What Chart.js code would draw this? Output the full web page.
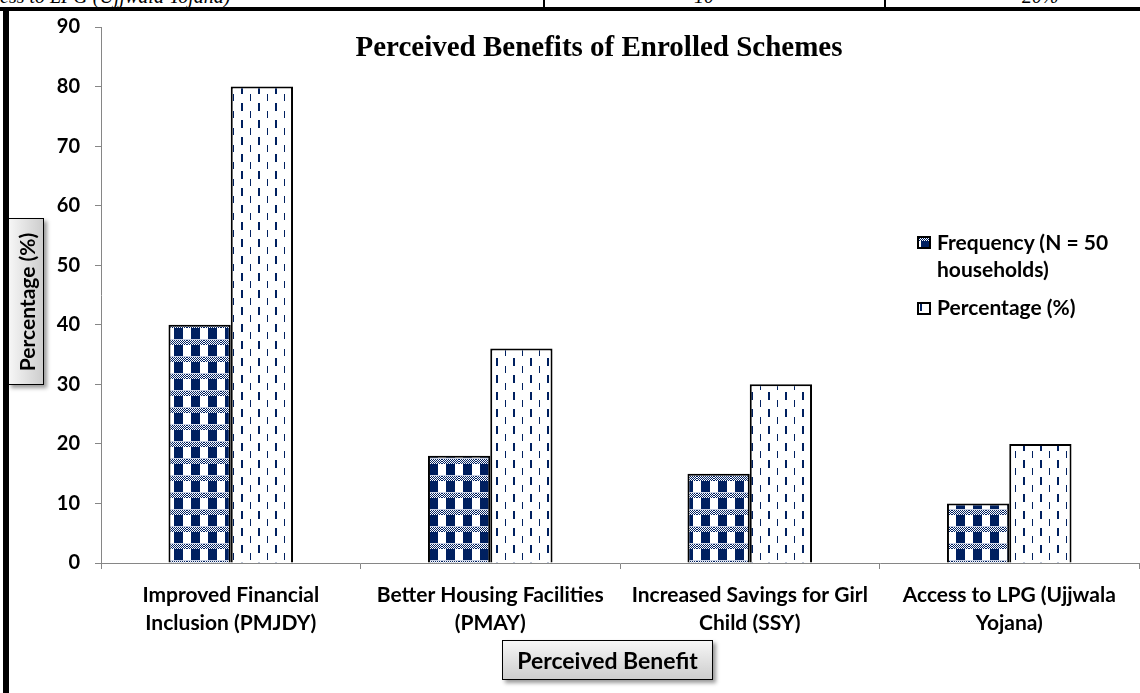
<!DOCTYPE html>
<html>
<head>
<meta charset="utf-8">
<script src="https://cdn.jsdelivr.net/npm/chart.js@4.4.1/dist/chart.umd.min.js"></script>
<style>
  body { margin: 0; background: #fff; }
  #page { position: relative; width: 1140px; height: 693px; overflow: hidden; background: #fff; }
  #chart { position: absolute; left: 0; top: 0; }
  .cell-text { position: absolute; top: -14px; font: italic 20px/20px "Liberation Serif", serif; color: #000; white-space: nowrap; }
  .rule { position: absolute; background: #000; }
  #title { position: absolute; left: 599px; top: 32px; transform: translateX(-50%); font: bold 29px/29px "Liberation Serif", serif; color: #000; white-space: nowrap; }
  .legend-row { position: absolute; left: 937px; font: bold 21px/27px Lato, sans-serif; color: #000; }
  .swatch { position: absolute; left: 917px; }
  .axis-box { position: absolute; border: 1px solid #000; box-shadow: 3px 3px 4px rgba(0,0,0,0.4); box-sizing: border-box; }
  .axis-box span { position: absolute; left: 50%; top: 50%; font: bold 21px Lato, sans-serif; color: #000; white-space: nowrap; }
</style>
</head>
<body>
<div id="page">
  <!-- cut-off table row above the chart -->
  <div class="cell-text" style="left:0px">ess to LPG (Ujjwala Yojana)</div>
  <div class="cell-text" style="left:694px">10</div>
  <div class="cell-text" style="left:1022px">20%</div>
  <div class="rule" style="left:543px; top:0; width:2px; height:8px"></div>
  <div class="rule" style="left:884px; top:0; width:2px; height:8px"></div>
  <div class="rule" style="left:0; top:7px; width:1140px; height:4px"></div>
  <div class="rule" style="left:3px; top:10px; width:6px; height:683px"></div>

  <canvas id="chart" width="1140" height="693"></canvas>

  <div id="title">Perceived Benefits of Enrolled Schemes</div>

  <canvas class="swatch" id="sw0" width="14" height="13" style="top:236px"></canvas>
  <div class="legend-row" style="top:228px">Frequency (N = 50<br>households)</div>
  <canvas class="swatch" id="sw1" width="14" height="13" style="top:302px"></canvas>
  <div class="legend-row" style="top:293px">Percentage (%)</div>

  <div class="axis-box" style="left:8px; top:218px; width:36px; height:167px; background:linear-gradient(to right,#f6f6f6,#cdcdcd)">
    <span style="transform:translate(-50%,-50%) rotate(-90deg)">Percentage (%)</span>
  </div>
  <div class="axis-box" style="left:502px; top:640px; width:211px; height:40px; background:linear-gradient(to bottom,#f6f6f6,#cdcdcd)">
    <span style="transform:translate(-50%,-50%); font-size:23px">Perceived Benefit</span>
  </div>
</div>

<script>
const categories = [
    ['Improved Financial', 'Inclusion (PMJDY)'],
    ['Better Housing Facilities', '(PMAY)'],
    ['Increased Savings for Girl', 'Child (SSY)'],
    ['Access to LPG (Ujjwala', 'Yojana)']
];
const frequency = [40, 18, 15, 10];
const percentage = [80, 36, 30, 20];
const yTicks = [0, 10, 20, 30, 40, 50, 60, 70, 80, 90];

const NAVY = '#002060';

// checkered tile for the frequency bars
function checkTile() {
    const c = document.createElement('canvas');
    c.width = 17; c.height = 17;
    const g = c.getContext('2d');
    g.fillStyle = '#fff';
    g.fillRect(0, 0, 17, 17);
    g.fillStyle = NAVY;
    for (let y = 0; y < 5; y++) {
        for (let x = (y % 2); x < 17; x += 2) g.fillRect(x, y, 1, 1);
    }
    g.fillRect(4, 5, 9, 11);
    g.fillStyle = '#c8d0e4';
    g.fillRect(0, 16, 17, 1);
    return c;
}

// white tile with staggered vertical dashes for the percentage bars
function dashTile() {
    const c = document.createElement('canvas');
    c.width = 17; c.height = 17;
    const g = c.getContext('2d');
    g.fillStyle = '#fff';
    g.fillRect(0, 0, 17, 17);
    g.fillStyle = NAVY;
    g.fillRect(3, 1, 2, 8);
    g.fillRect(12, 9, 1, 7);
    return c;
}

const ctx = document.getElementById('chart').getContext('2d');
const freqFill = ctx.createPattern(checkTile(), 'repeat');
const pctFill = ctx.createPattern(dashTile(), 'repeat');

function drawSwatch(id, tile) {
    const g = document.getElementById(id).getContext('2d');
    g.fillStyle = g.createPattern(tile, 'repeat');
    g.fillRect(0, 0, 14, 13);
    g.strokeStyle = '#000';
    g.lineWidth = 2;
    g.strokeRect(1, 1, 12, 11);
}
drawSwatch('sw0', checkTile());
drawSwatch('sw1', dashTile());

new Chart(ctx, {
    type: 'bar',
    data: {
        labels: categories,
        datasets: [{
            label: 'Frequency (N = 50 households)',
            data: frequency,
            backgroundColor: freqFill,
            borderColor: '#000',
            borderWidth: 2
        }, {
            label: 'Percentage (%)',
            data: percentage,
            backgroundColor: pctFill,
            borderColor: '#000',
            borderWidth: 2
        }]
    },
    options: {
        responsive: false,
        animation: false,
        categoryPercentage: 0.48,
        barPercentage: 1,
        layout: { padding: { top: 23, right: 1, left: 0, bottom: 0 } },
        plugins: {
            legend: { display: false },
            title: { display: false },
            tooltip: { enabled: false }
        },
        scales: {
            x: {
                ticks: {
                    color: '#000',
                    font: { family: 'Lato', weight: 'bold', size: 21, lineHeight: 1.33 },
                    padding: 12,
                    maxRotation: 0,
                    autoSkip: false
                },
                grid: { drawOnChartArea: false, tickLength: 6, color: '#868686', offset: true },
                border: { color: '#868686' },
                afterFit: function(scale) { scale.height = 130; }
            },
            y: {
                min: yTicks[0],
                max: yTicks[yTicks.length - 1],
                afterBuildTicks: function(scale) { scale.ticks = yTicks.map(v => ({ value: v })); },
                ticks: {
                    color: '#000',
                    font: { family: 'Lato', weight: 'bold', size: 20 },
                    padding: 15
                },
                grid: { drawOnChartArea: false, tickLength: 6, color: '#868686' },
                border: { color: '#868686' },
                afterFit: function(scale) { scale.width = 101; }
            }
        }
    }
});
</script>
</body>
</html>
